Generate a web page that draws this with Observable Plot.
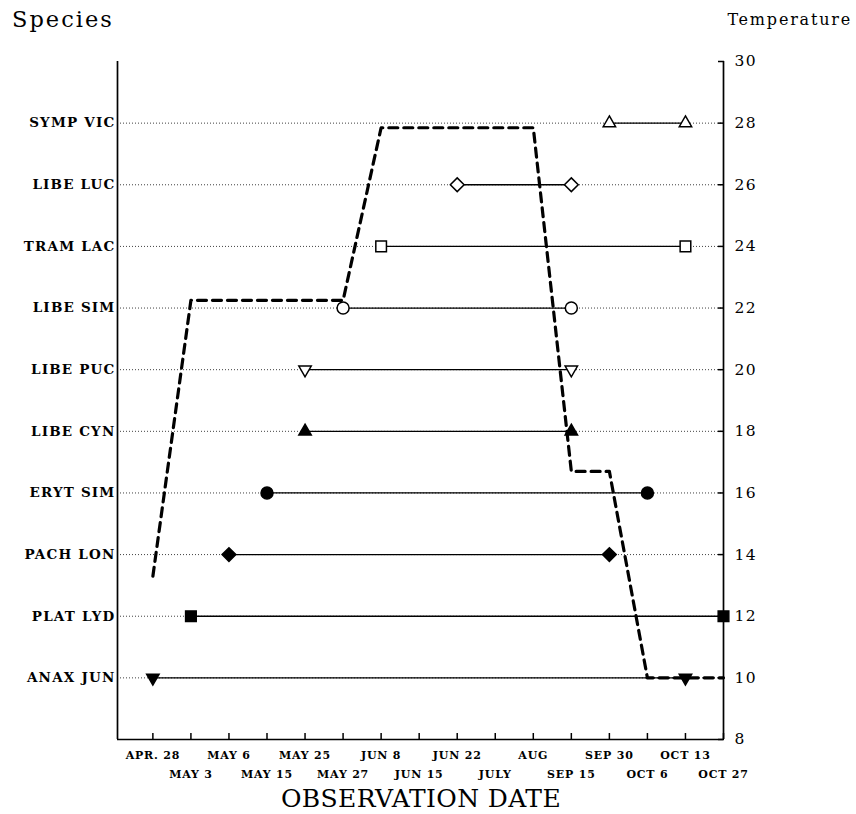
<!DOCTYPE html>
<html><head><meta charset="utf-8">
<script src="https://cdn.jsdelivr.net/npm/d3@7"></script>
<script src="https://cdn.jsdelivr.net/npm/@observablehq/plot@0.6"></script>
<style>
body{margin:0;background:#fff;}
#wrap{position:relative;width:856px;height:814px;font-family:"DejaVu Serif",serif;color:#000;background:#fff}
.t{position:absolute;line-height:1;white-space:nowrap}
#chart{position:absolute;left:0;top:0}
g[aria-label="y-axis tick label"][text-anchor="end"]{letter-spacing:1.2px}
g[aria-label="y-axis tick label"][text-anchor="start"]{letter-spacing:1.5px}
g[aria-label="x-axis tick label"]{letter-spacing:0.8px}
</style></head><body>
<div id="wrap">
<div id="chart"></div>
<div class="t" style="left:12px;top:8px;font-size:22.5px;letter-spacing:2px">Species</div>
<div class="t" style="right:4px;top:11.5px;font-size:16px;letter-spacing:1.8px">Temperature</div>
<div class="t" style="left:421px;top:785.5px;font-size:25px;transform:translateX(-50%);letter-spacing:0.4px">OBSERVATION DATE</div>
</div>
<script>
// ---- data ----
const species   = ["ANAX JUN","PLAT LYD","PACH LON","ERYT SIM","LIBE CYN","LIBE PUC","LIBE SIM","TRAM LAC","LIBE LUC","SYMP VIC"];
const rowTemp   = [10, 12, 14, 16, 18, 20, 22, 24, 26, 28];
const startIdx  = [0, 1, 2, 3, 4, 4, 5, 6, 8, 12];
const endIdx    = [14, 15, 12, 13, 11, 11, 11, 14, 11, 14];
const markerSymbol = ["triangle","square","diamond2","circle","triangle","triangle","circle","square","diamond2","triangle"];
const markerDown   = [true, false, false, false, false, true, false, false, false, false];
const markerFilled = [true, true, true, true, true, false, false, false, false, false];

const dateLabels = ["APR. 28","MAY 3","MAY 6","MAY 15","MAY 25","MAY 27","JUN 8","JUN 15","JUN 22","JULY","AUG","SEP 15","SEP 30","OCT 6","OCT 13","OCT 27"];
const dateIdx    = [0,1,2,3,4,5,6,7,8,9,10,11,12,13,14,15];

const tempX = [0, 1, 5, 6, 10, 11, 12, 13, 15];
const tempC = [13.3, 22.25, 22.25, 27.85, 27.85, 16.7, 16.7, 10, 10];
const tempTicks = [8, 10, 12, 14, 16, 18, 20, 22, 24, 26, 28, 30];

// ---- build tables ----
const rows = species.map((s, i) => ({
  name: s, y: rowTemp[i], x1: startIdx[i], x2: endIdx[i],
  symbol: markerSymbol[i], rotate: markerDown[i] ? 180 : 0, filled: markerFilled[i]
}));
const pts = rows.flatMap(r => [{...r, x: r.x1}, {...r, x: r.x2}]);
const tempLine = tempX.map((x, i) => ({x, t: tempC[i]}));
const rBySymbol = {circle: 6, square: 6, triangle: 4.6, diamond2: 6.2};
const nameOf = new Map(rows.map(r => [r.y, r.name]));
const evenIdx = dateIdx.filter(i => i % 2 === 0);
const oddIdx = dateIdx.filter(i => i % 2 === 1);
const xDom = [-0.93, dateIdx[dateIdx.length - 1]];
const yDom = [tempTicks[0], tempTicks[tempTicks.length - 1]];

const chart = Plot.plot({
  width: 856, height: 814,
  marginLeft: 117, marginRight: 133, marginTop: 61, marginBottom: 75,
  style: {fontFamily: "DejaVu Serif", background: "white", color: "black", overflow: "visible"},
  x: {domain: xDom},
  y: {domain: yDom},
  r: {type: "identity"},
  marks: [
    Plot.gridY(rowTemp, {stroke: "black", strokeOpacity: 0.75, strokeDasharray: "1,2", strokeWidth: 1}),
    Plot.axisY({anchor: "left", ticks: rowTemp, tickFormat: d => nameOf.get(d), tickSize: 0, tickPadding: 2,
      label: null, fontSize: 13.5, fontWeight: "bold"}),
    Plot.axisY({anchor: "right", ticks: tempTicks, tickSize: -6, tickPadding: 17,
      label: null, fontSize: 15.5, strokeWidth: 1.5}),
    Plot.axisX({ticks: evenIdx, tickFormat: i => dateLabels[i], tickSize: -6, tickPadding: 18,
      label: null, fontSize: 11, fontWeight: "bold", strokeWidth: 1.5}),
    Plot.axisX({ticks: oddIdx, tickFormat: i => dateLabels[i], tickSize: -6, tickPadding: 37,
      label: null, fontSize: 11, fontWeight: "bold", strokeWidth: 1.5}),
    Plot.ruleX(xDom, {stroke: "black", strokeWidth: 1.7}),
    Plot.ruleY([yDom[0]], {stroke: "black", strokeWidth: 1.7}),
    Plot.link(rows, {x1: "x1", x2: "x2", y1: "y", y2: "y", stroke: "black", strokeWidth: 1.3}),
    Plot.line(tempLine, {x: "x", y: "t", stroke: "black", strokeWidth: 3.2, strokeDasharray: "9,6"}),
    Plot.dot(pts, {x: "x", y: "y", symbol: d => d.symbol, rotate: "rotate",
      r: d => rBySymbol[d.symbol],
      fill: d => d.filled ? "black" : "white", stroke: "black", strokeWidth: 1.5})
  ]
});
document.getElementById("chart").appendChild(chart);
</script>
</body></html>
